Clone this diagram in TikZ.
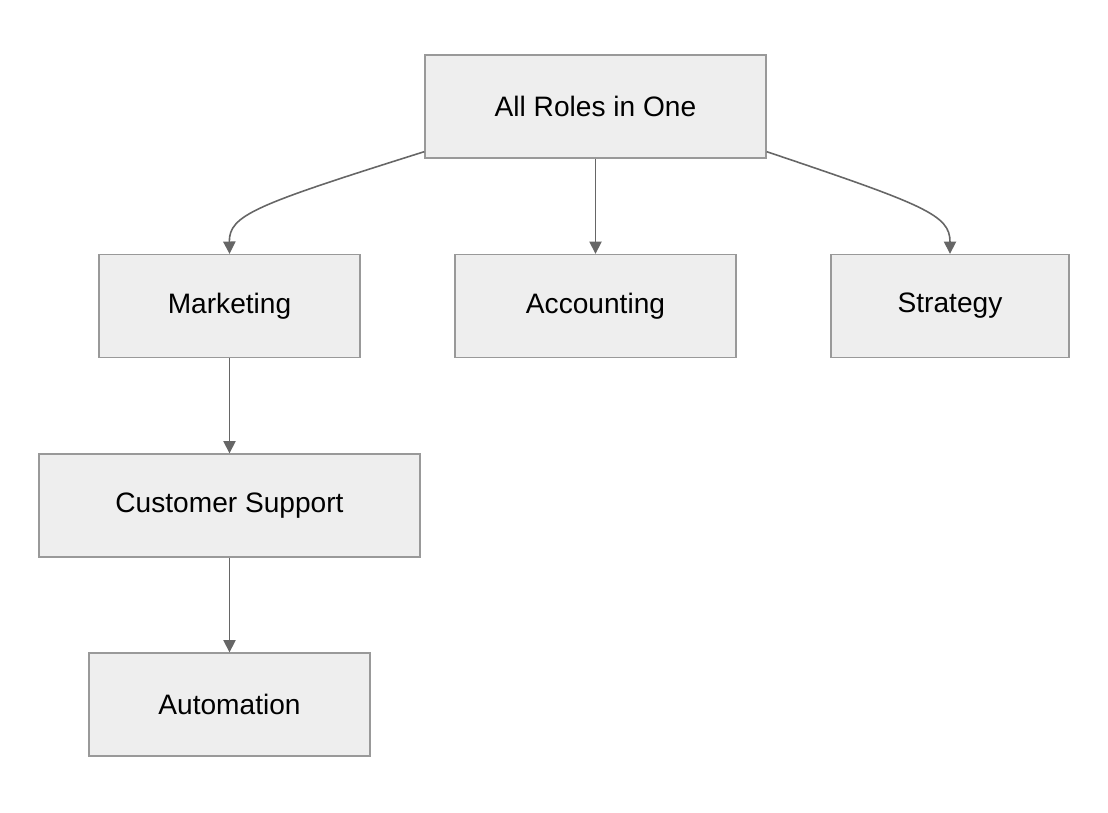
\documentclass[tikz,border=0pt]{standalone}
\usepackage{fontspec}
\setmainfont{Liberation Sans}
\usepackage{tikz}
\usetikzlibrary{positioning}
\usetikzlibrary{arrows.meta}
\definecolor{boxfill}{HTML}{EEEEEE}
\definecolor{boxline}{HTML}{999999}
\definecolor{linkcol}{HTML}{666666}
\tikzstyle{role} = [rectangle, minimum height=2.06cm, text centered, draw=boxline, fill=boxfill, line width=0.8pt, font=\fontsize{16}{19}\selectfont]
\tikzstyle{arrow} = [draw=linkcol, line width=0.9pt, -{Triangle[length=7pt,width=7pt]}]

\begin{document}
\begin{tikzpicture}[x=0.02cm, y=-0.02cm]
        \useasboundingbox (0,0) rectangle (1108,812);
        \node (allRoles) [role, minimum width=6.82cm] at (595.5,106.5) {All Roles in One};
        \node (marketing) [role, minimum width=5.22cm] at (229.5,306) {Marketing};
        \node (accounting) [role, minimum width=5.62cm] at (595.5,306) {Accounting};
        \node (strategy) [role, minimum width=4.76cm] at (950,306) {Strategy};
        \node (support) [role, minimum width=7.62cm] at (229.5,505.5) {Customer Support};
        \node (automation) [role, minimum width=5.62cm] at (229.5,704.5) {Automation};

        \draw [arrow] ([yshift=4pt]allRoles.south west) .. controls (255,205) and (229,215) .. (marketing.north);
        \draw [arrow] (allRoles) -- (accounting);
        \draw [arrow] ([yshift=4pt]allRoles.south east) .. controls (925,205) and (950,215) .. (strategy.north);
        \draw [arrow] (marketing) -- (support);
        \draw [arrow] (support) -- (automation);
    \end{tikzpicture}
\end{document}
